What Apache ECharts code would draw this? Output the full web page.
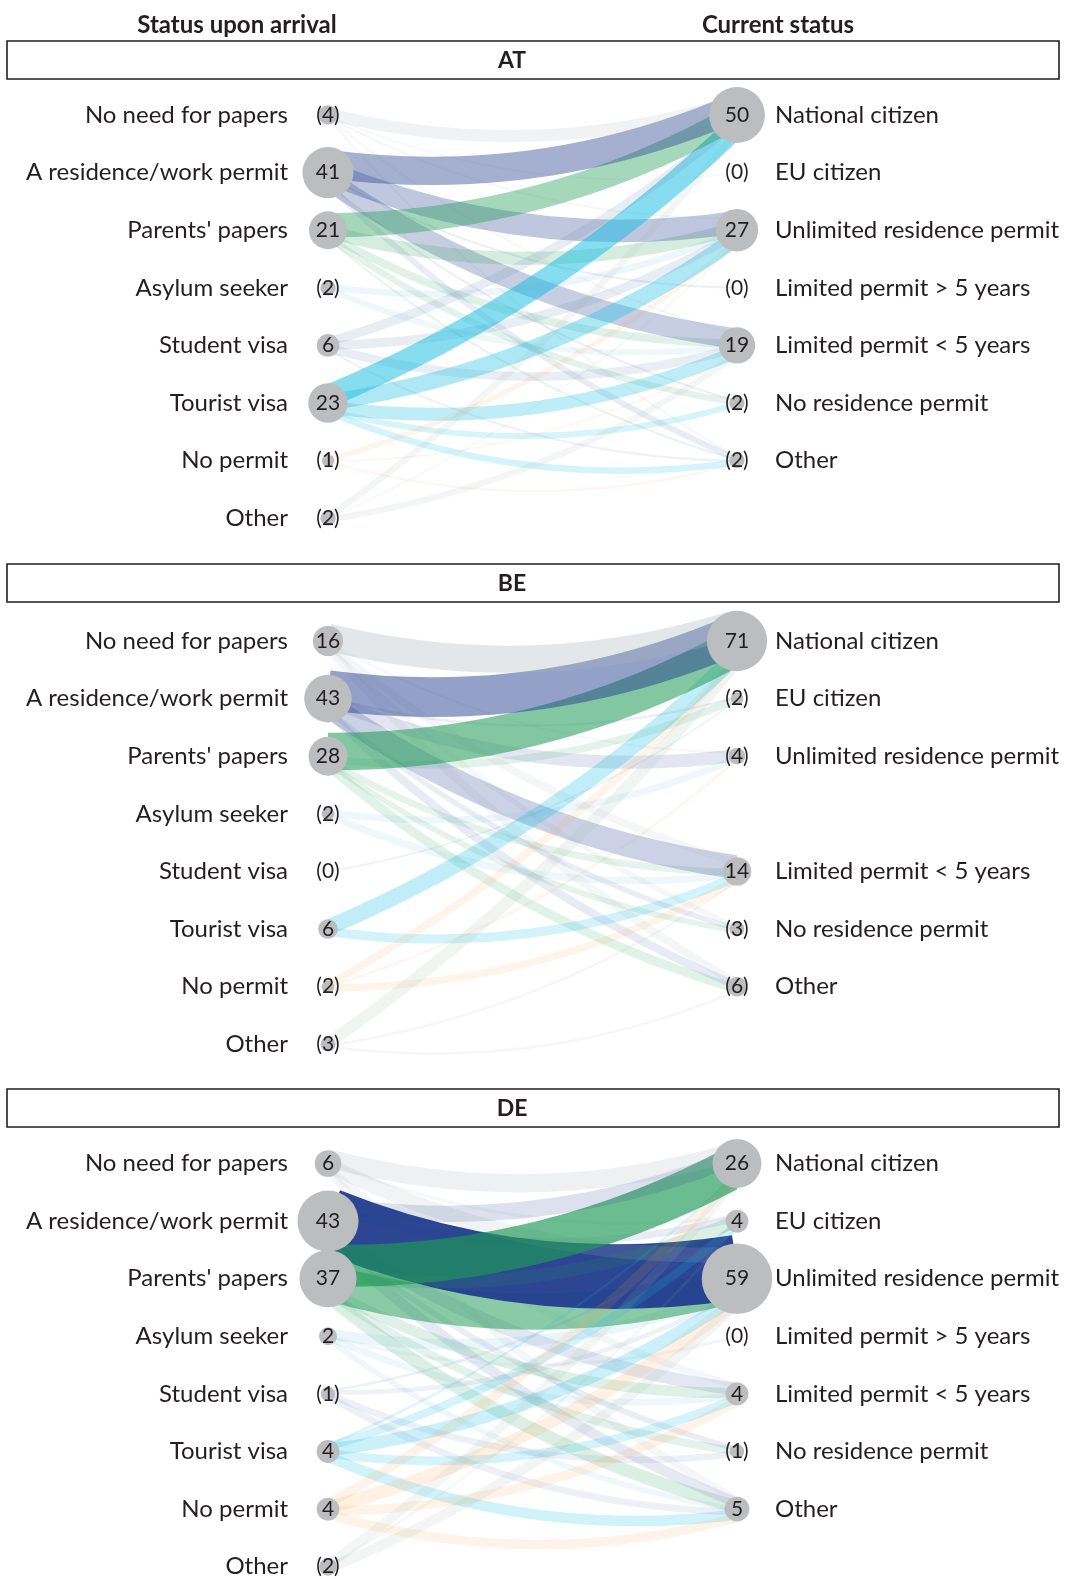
<!DOCTYPE html>
<html>
<head>
<meta charset="utf-8">
<script src="https://cdn.jsdelivr.net/npm/echarts@6/dist/echarts.min.js"></script>
<style>
  html, body { margin: 0; padding: 0; background: #fff; }
  #chart { width: 1065px; height: 1579px; }
</style>
</head>
<body>
<div id="chart"></div>
<script>
// categories
const leftCats = ['No need for papers', 'A residence/work permit', "Parents' papers", 'Asylum seeker',
  'Student visa', 'Tourist visa', 'No permit', 'Other']
const rightCats = ['National citizen', 'EU citizen', 'Unlimited residence permit', 'Limited permit > 5 years',
  'Limited permit < 5 years', 'No residence permit', 'Other']
const countries = ['AT', 'BE', 'DE']

// node shares (%), with the printed labels
const atLeft = [4, 41, 21, 2, 6, 23, 1, 2]
const atLeftText = ['(4)', '41', '21', '(2)', '6', '23', '(1)', '(2)']
const atRight = [50, 0, 27, 0, 19, 2, 2]
const atRightText = ['50', '(0)', '27', '(0)', '19', '(2)', '(2)']

const beLeft = [16, 43, 28, 2, 0, 6, 2, 3]
const beLeftText = ['16', '43', '28', '(2)', '(0)', '6', '(2)', '(3)']
const beRight = [71, 2, 4, null, 14, 3, 6]   // no "Limited permit > 5 years" row
const beRightText = ['71', '(2)', '(4)', '', '14', '(3)', '(6)']

const deLeft = [6, 43, 37, 2, 1, 4, 4, 2]
const deLeftText = ['6', '43', '37', '2', '(1)', '4', '4', '(2)']
const deRight = [26, 4, 59, 0, 4, 1, 5]
const deRightText = ['26', '4', '59', '(0)', '4', '(1)', '5']

// flows [from arrival status, to current status, share] (estimated from the band widths)
const atFlows = [
  [0, 0, 3.5], [0, 1, 0.05], [0, 2, 0.1], [0, 4, 0.1], [0, 6, 0.1],
  [1, 0, 19], [1, 2, 12], [1, 3, 0.1], [1, 4, 10], [1, 5, 0.1], [1, 6, 0.8],
  [2, 0, 14], [2, 2, 4], [2, 4, 1.5], [2, 5, 1], [2, 6, 0.1],
  [3, 2, 1], [3, 4, 0.8],
  [4, 0, 2], [4, 2, 2], [4, 4, 1.8], [4, 6, 0.1],
  [5, 0, 12], [5, 2, 6.5], [5, 4, 4], [5, 5, 0.8], [5, 6, 1],
  [6, 2, 0.6], [6, 4, 0.05], [6, 6, 0.1],
  [7, 0, 1], [7, 4, 0.9], [7, 2, 0.05]
]
const beFlows = [
  [0, 0, 13], [0, 2, 0.1], [0, 4, 1], [0, 5, 0.5], [0, 6, 1.2],
  [1, 0, 28], [1, 1, 0.1], [1, 2, 3], [1, 4, 10], [1, 5, 0.5], [1, 6, 1.2],
  [2, 0, 25], [2, 1, 1], [2, 4, 0.8], [2, 5, 0.6], [2, 6, 1.5],
  [3, 2, 0.8], [3, 4, 0.9],
  [4, 1, 0.05],
  [5, 0, 4.5], [5, 4, 1.5],
  [6, 0, 1], [6, 2, 0.1], [6, 4, 1],
  [7, 0, 2.5], [7, 4, 0.1], [7, 6, 0.1]
]
const deFlows = [
  [0, 0, 3], [0, 1, 0.1], [0, 2, 2], [0, 4, 0.4], [0, 6, 0.5],
  [1, 0, 2.5], [1, 1, 0.5], [1, 2, 38], [1, 4, 1.5], [1, 5, 0.3], [1, 6, 1],
  [2, 0, 16], [2, 1, 1.5], [2, 2, 12], [2, 4, 1], [2, 5, 0.6], [2, 6, 1.5],
  [3, 2, 1], [3, 3, 0.1], [3, 4, 0.4], [3, 6, 0.3],
  [4, 1, 0.05], [4, 2, 0.2], [4, 5, 0.4], [4, 6, 0.4],
  [5, 0, 0.05], [5, 1, 0.6], [5, 2, 1.5], [5, 4, 0.7], [5, 6, 1],
  [6, 0, 0.8], [6, 2, 1.5], [6, 4, 0.8], [6, 6, 0.8],
  [7, 0, 0.8], [7, 1, 0.05], [7, 2, 0.9]
]

// colour of each arrival status, and how strongly it is painted
const srcColors = ['#a9b4bf', '#233e8f', '#1e9a56', '#6bb8d8', '#5d7fb0', '#14bde2', '#f5a04a', '#9db5a5']
const srcAlpha = [1, 0.85, 1.05, 1, 1, 1.5, 1, 1]

// layout
const FONT = "Lato, 'Open Sans', sans-serif"
const ROW = 57.6
const X_LEFT = 328
const X_RIGHT = 737
const rowTop = [115, 641, 1163.5]
const boxTop = [41, 564, 1089]
const widthK = [6.5, 7.5, 10.5]
const alphaK = [0.02, 0.017, 0.033]
const radius = [[2.5, 3.6], [1.5, 3.4], [3, 4.2]]

const panels = [
  { left: atLeft, leftText: atLeftText, right: atRight, rightText: atRightText, flows: atFlows },
  { left: beLeft, leftText: beLeftText, right: beRight, rightText: beRightText, flows: beFlows },
  { left: deLeft, leftText: deLeftText, right: deRight, rightText: deRightText, flows: deFlows }
]

const buildLines = (flows, p) => {
  const dx = X_RIGHT - X_LEFT
  const items = flows.map(([s, t, v]) => ({ s, t, v, w: Math.max(1, widthK[p] * Math.sqrt(v)) }))
  // stack the bands a little at each node so they fan out in order
  const spread = 0.32
  const stack = (key, other, field) => {
    const groups = {}
    items.forEach(it => { (groups[it[key]] = groups[it[key]] || []).push(it) })
    Object.values(groups).forEach(g => {
      g.sort((a, b) => a[other] - b[other])
      const total = g.reduce((acc, it) => acc + it.w, 0)
      let cum = 0
      g.forEach(it => {
        it[field] = (cum + it.w / 2 - total / 2) * spread / ROW
        cum += it.w
      })
    })
  }
  stack('s', 't', 'offS')
  stack('t', 's', 'offT')
  // bands to the lower targets first, so flows into "National citizen" sit on top
  items.sort((a, b) => (b.t - a.t) || (b.s - a.s))
  return items.map(it => {
    const dy = (it.t - it.s) * ROW
    const curv = -0.14 * dx * dx / (dx * dx + dy * dy)
    return {
      coords: [[0, it.s + it.offS], [1, it.t + it.offT]],
      lineStyle: {
        color: srcColors[it.s],
        width: it.w,
        opacity: Math.min(0.96, (0.1 + alphaK[p] * it.v) * srcAlpha[it.s]),
        curveness: curv
      }
    }
  })
}

const nodeSize = (v, p) => (v ? 2 * (radius[p][0] + radius[p][1] * Math.sqrt(v)) : 0)

const grids = [], xAxes = [], yAxes = [], series = [], graphics = []

panels.forEach((d, p) => {
  grids.push({ left: X_LEFT, right: 1065 - X_RIGHT, top: rowTop[p] - ROW / 2, height: ROW * 8, outerBoundsMode: 'none' })
  xAxes.push({ gridIndex: p, type: 'value', min: 0, max: 1, show: false })
  const yBase = yAxes.length
  yAxes.push({ gridIndex: p, type: 'value', min: -0.5, max: 7.5, inverse: true, show: false })
  yAxes.push({
    gridIndex: p, type: 'category', data: leftCats, inverse: true, position: 'left',
    axisLine: { show: false }, axisTick: { show: false }, splitLine: { show: false },
    axisLabel: { margin: 40, fontSize: 24, color: '#231f20', fontFamily: FONT }
  })
  yAxes.push({
    gridIndex: p, type: 'category', inverse: true, position: 'right',
    data: rightCats.map((c, i) => (d.right[i] === null ? '' : c)).concat(['']),
    axisLine: { show: false }, axisTick: { show: false }, splitLine: { show: false },
    axisLabel: { margin: 38, fontSize: 24, color: '#231f20', fontFamily: FONT }
  })

  series.push({
    type: 'lines', coordinateSystem: 'cartesian2d', xAxisIndex: p, yAxisIndex: yBase,
    silent: true, z: 2, polyline: false,
    lineStyle: { cap: 'butt' },
    data: buildLines(d.flows, p)
  })

  const nodeSeries = (vals, texts, x) => ({
    type: 'scatter', xAxisIndex: p, yAxisIndex: yBase, z: 4, silent: true,
    data: vals.map((v, i) => (v === null ? null : [x, i, v])).filter(Boolean),
    symbol: 'circle',
    symbolSize: val => nodeSize(val[2], p),
    itemStyle: { color: '#bcbdbf', opacity: 1 },
    label: {
      show: true, position: 'inside', fontSize: 21, color: '#231f20', fontFamily: FONT,
      formatter: prm => texts[prm.data[1]]
    }
  })
  series.push(nodeSeries(d.left, d.leftText, 0))
  series.push(nodeSeries(d.right, d.rightText, 1))

  graphics.push({
    type: 'rect', shape: { x: 7, y: boxTop[p], width: 1052, height: 38 },
    style: { fill: 'none', stroke: '#231f20', lineWidth: 1.6 }
  })
  graphics.push({
    type: 'text', x: 512, y: boxTop[p] + 20,
    style: { text: countries[p], font: `bold 23px ${FONT}`, fill: '#231f20', align: 'center', verticalAlign: 'middle' }
  })
})

graphics.push({
  type: 'text', x: 237, y: 25,
  style: { text: 'Status upon arrival', font: `bold 24px ${FONT}`, fill: '#231f20', align: 'center', verticalAlign: 'middle' }
})
graphics.push({
  type: 'text', x: 778, y: 25,
  style: { text: 'Current status', font: `bold 24px ${FONT}`, fill: '#231f20', align: 'center', verticalAlign: 'middle' }
})

const chart = echarts.init(document.getElementById('chart'), null, { renderer: 'canvas' })
chart.setOption({
  animation: false,
  backgroundColor: '#fff',
  grid: grids,
  xAxis: xAxes,
  yAxis: yAxes,
  series: series,
  graphic: graphics
})
</script>
</body>
</html>
